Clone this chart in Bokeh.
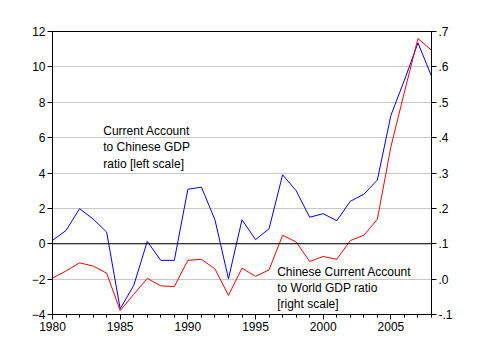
from bokeh.plotting import figure
from bokeh.models import (LinearAxis, Range1d, SingleIntervalTicker, FixedTicker,
                          CustomJSTickFormatter, Span, Label, ColumnDataSource)
from bokeh.embed import file_html
from bokeh.resources import INLINE

years = list(range(1980, 2009))
ca_china_gdp = [0.19, 0.75, 1.98, 1.4, 0.66, -3.68, -2.36, 0.13, -0.94, -0.94,
                3.08, 3.2, 1.36, -1.98, 1.36, 0.23, 0.85, 3.9, 3.0, 1.5,
                1.7, 1.3, 2.4, 2.8, 3.6, 7.26, 9.25, 11.36, 9.47]
ca_world_gdp = [0.003, 0.023, 0.046, 0.037, 0.017, -0.089, -0.043, 0.002, -0.019, -0.021,
                0.053, 0.056, 0.029, -0.046, 0.031, 0.008, 0.026, 0.124, 0.105, 0.05,
                0.064, 0.056, 0.109, 0.124, 0.169, 0.374, 0.529, 0.68, 0.647]
left_ticks = [-4, -2, 0, 2, 4, 6, 8, 10, 12]
right_ticks = [-0.1, 0.0, 0.1, 0.2, 0.3, 0.4, 0.5, 0.6, 0.7]
label_left = "Current Account\nto Chinese GDP\nratio [left scale]"
label_right = "Chinese Current Account\nto World GDP ratio\n[right scale]"

FONT = "Liberation Sans"

p = figure(width=465, height=345, output_backend="svg", toolbar_location=None,
           x_range=Range1d(1980, 2008), y_range=Range1d(-4, 12),
           min_border_left=52, min_border_right=34, min_border_top=31, min_border_bottom=31)
p.extra_y_ranges = {"right": Range1d(-0.1, 0.7)}

p.outline_line_color = "black"
p.outline_line_width = 1
p.background_fill_color = "white"
p.border_fill_color = "white"

p.xgrid.visible = False
p.ygrid.ticker = FixedTicker(ticks=left_ticks)
p.ygrid.grid_line_color = "#c8c8c8"
p.ygrid.grid_line_width = 1

p.xaxis.ticker = SingleIntervalTicker(interval=5, num_minor_ticks=5)
p.yaxis.ticker = FixedTicker(ticks=left_ticks)

for ax in [p.xaxis[0], p.yaxis[0]]:
    ax.axis_line_color = "black"
    ax.major_tick_line_color = "black"
    ax.major_tick_in = 0
    ax.major_tick_out = 5
    ax.minor_tick_in = 0
    ax.minor_tick_out = 3
    ax.major_label_text_font = FONT
    ax.major_label_text_font_size = "12px"
    ax.major_label_text_color = "black"
p.xaxis.major_label_standoff = 2
p.yaxis.minor_tick_line_color = None
p.yaxis.major_label_standoff = 2

rax = LinearAxis(y_range_name="right", ticker=FixedTicker(ticks=right_ticks),
                 formatter=CustomJSTickFormatter(code="return tick.toFixed(1).replace('0.', '.');"))
rax.axis_line_color = "black"
rax.major_tick_in = 0
rax.major_tick_out = 5
rax.minor_tick_line_color = None
rax.major_label_text_font = FONT
rax.major_label_text_font_size = "12px"
rax.major_label_text_color = "black"
rax.major_label_standoff = 2
p.add_layout(rax, "right")

p.add_layout(Span(location=0, dimension="width", line_color="black", line_width=1))

src = ColumnDataSource(dict(year=years, a=ca_china_gdp, b=ca_world_gdp))
p.line("year", "a", source=src, line_color="blue", line_width=1)
p.line("year", "b", source=src, line_color="red", line_width=1, y_range_name="right")

p.add_layout(Label(x=1983.75, y=6.75, text=label_left, text_font=FONT, text_font_size="12px",
                   text_color="black", text_baseline="top", text_line_height=1.15))
p.add_layout(Label(x=1996.6, y=-1.2, text=label_right, text_font=FONT, text_font_size="12px",
                   text_color="black", text_baseline="top", text_line_height=1.15))

open("out.html", "w").write(file_html(p, INLINE))
